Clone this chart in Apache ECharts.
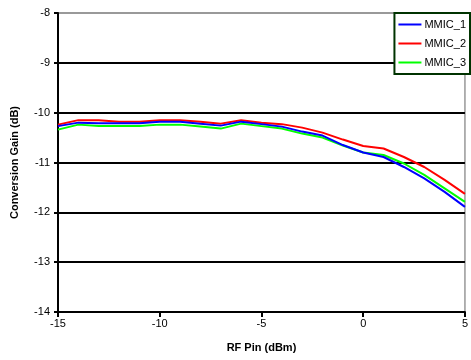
<!DOCTYPE html>
<html>
<head>
<meta charset="utf-8">
<script src="https://cdn.jsdelivr.net/npm/echarts@6/dist/echarts.min.js"></script>
<style>
  html, body { margin: 0; padding: 0; background: #fff; }
  #chart { width: 471px; height: 360px; }
</style>
</head>
<body>
<div id="chart"></div>
<script>
// RF input power (dBm)
const pin = [-15, -14, -13, -12, -11, -10, -9, -8, -7, -6, -5, -4, -3, -2, -1, 0, 1, 2, 3, 4, 5];

// conversion gain (dB)
const mmic1 = [-10.27, -10.2, -10.21, -10.21, -10.21, -10.18, -10.18, -10.22, -10.26, -10.18, -10.23, -10.28, -10.38, -10.46, -10.65, -10.8, -10.89, -11.09, -11.32, -11.59, -11.89];
const mmic2 = [-10.24, -10.15, -10.15, -10.18, -10.18, -10.15, -10.15, -10.18, -10.22, -10.15, -10.2, -10.23, -10.3, -10.4, -10.54, -10.67, -10.72, -10.89, -11.09, -11.35, -11.63];
const mmic3 = [-10.34, -10.24, -10.27, -10.27, -10.27, -10.24, -10.24, -10.28, -10.32, -10.22, -10.27, -10.32, -10.42, -10.5, -10.66, -10.8, -10.85, -11.02, -11.25, -11.52, -11.79];

const seriesNames = ['MMIC_1', 'MMIC_2', 'MMIC_3'];
const seriesColors = ['#0000ff', '#ff0000', '#00ff00'];

const pair = (ys) => pin.map((x, i) => [x, ys[i]]);

const chart = echarts.init(document.getElementById('chart'));

const font = 'Liberation Sans, Arial, sans-serif';

chart.setOption({
  animation: false,
  textStyle: { fontFamily: font },
  grid: {
    left: 58,
    right: 3,
    top: 13,
    bottom: 48,
    show: true,
    borderColor: '#999',
    borderWidth: 1.5,
  },
  legend: {
    orient: 'vertical',
    right: 1,
    top: 13,
    icon: 'rect',
    itemWidth: 23,
    itemHeight: 2,
    itemGap: 8,
    padding: [6, 4, 6, 4],
    borderColor: '#003300',
    borderWidth: 2,
    borderRadius: 0,
    backgroundColor: '#fff',
    textStyle: { fontSize: 11, color: '#000', fontFamily: font, padding: [0, 0, 0, -2] },
    data: seriesNames,
  },
  xAxis: {
    type: 'value',
    min: -15,
    max: 5,
    interval: 5,
    name: 'RF Pin (dBm)',
    nameLocation: 'middle',
    nameGap: 30,
    nameTextStyle: { fontWeight: 'bold', fontSize: 11, color: '#000' },
    axisLine: { onZero: false, lineStyle: { color: '#000', width: 2 } },
    axisTick: { show: true, length: 5, lineStyle: { color: '#000', width: 2 } },
    axisLabel: { fontSize: 11, color: '#000', margin: 6 },
    splitLine: { show: false },
  },
  yAxis: {
    type: 'value',
    min: -14,
    max: -8,
    interval: 1,
    name: 'Conversion Gain (dB)',
    nameLocation: 'middle',
    nameGap: 38,
    nameTextStyle: { fontWeight: 'bold', fontSize: 11, color: '#000' },
    axisLine: { onZero: false, lineStyle: { color: '#000', width: 2 } },
    axisTick: { show: true, length: 4, lineStyle: { color: '#000', width: 2 } },
    axisLabel: { fontSize: 11, color: '#000', margin: 8 },
    splitLine: {
      show: true,
      lineStyle: { color: ['#000', '#000', '#000', '#000', '#000', '#000', '#999'], width: 2 },
    },
  },
  series: [mmic1, mmic2, mmic3].map((ys, i) => ({
    name: seriesNames[i],
    type: 'line',
    data: pair(ys),
    showSymbol: false,
    symbol: 'none',
    color: seriesColors[i],
    lineStyle: { width: 2, color: seriesColors[i] },
    z: 3 - i,
  })),
});
</script>
</body>
</html>
